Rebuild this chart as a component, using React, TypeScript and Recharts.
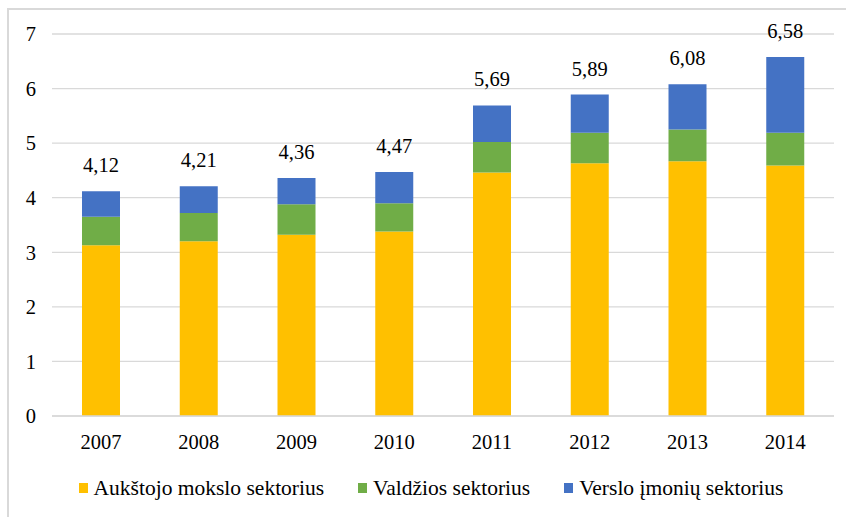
import React from "react";
import { BarChart, Bar, XAxis, YAxis, CartesianGrid, Legend, LabelList } from "recharts";

const years = ["2007", "2008", "2009", "2010", "2011", "2012", "2013", "2014"];
const aukstojo = [3.13, 3.2, 3.32, 3.38, 4.46, 4.63, 4.67, 4.59];
const valdzios = [0.52, 0.52, 0.56, 0.52, 0.56, 0.56, 0.58, 0.6];
const verslo = [0.47, 0.49, 0.48, 0.57, 0.67, 0.7, 0.83, 1.39];
const totals = [4.12, 4.21, 4.36, 4.47, 5.69, 5.89, 6.08, 6.58];
const yTicks = [0, 1, 2, 3, 4, 5, 6, 7];

const seriesNames = ["Aukštojo mokslo sektorius", "Valdžios sektorius", "Verslo įmonių sektorius"];
const seriesColors = ["#FFC000", "#70AD47", "#4472C4"];

const data = years.map((y, i) => ({
  year: y,
  a: aukstojo[i],
  v: valdzios[i],
  b: verslo[i],
  total: totals[i],
}));

const FONT = '"Liberation Serif", "Times New Roman", serif';

const LegendContent = () => (
  <div
    style={{
      display: "flex",
      justifyContent: "center",
      alignItems: "center",
      height: 24,
      paddingLeft: 28,
      fontFamily: FONT,
      fontSize: 21.5,
      color: "#000",
      whiteSpace: "nowrap",
    }}
  >
    {seriesNames.map((n, i) => (
      <div key={n} style={{ display: "flex", alignItems: "center", marginRight: i < 2 ? 34 : 0 }}>
        <span style={{ display: "inline-block", width: 9, height: 10, background: seriesColors[i], marginRight: 6 }} />
        <span>{n}</span>
      </div>
    ))}
  </div>
);

export default function App() {
  return (
    <div style={{ position: "absolute", left: 0, top: 0, width: 846, height: 517, overflow: "hidden", background: "#fff" }}>
      <div
        style={{
          position: "absolute",
          left: 7,
          top: 8,
          width: 900,
          height: 600,
          border: "2px solid #d9d9d9",
        }}
      />
      <div style={{ position: "absolute", left: 0, top: 0 }}>
        <BarChart width={846} height={517} data={data} margin={{ top: 34, right: 12, left: 0, bottom: 17 }} barSize={38}>
          <CartesianGrid vertical={false} stroke="#d9d9d9" strokeWidth={1.3} />
          <XAxis
            dataKey="year"
            height={60}
            tickLine={false}
            axisLine={{ stroke: "#d9d9d9", strokeWidth: 1.3 }}
            tickMargin={12}
            tick={{ fill: "#000", fontFamily: FONT, fontSize: 20.5 }}
          />
          <YAxis
            width={52}
            domain={[0, 7]}
            ticks={yTicks}
            tickLine={false}
            axisLine={false}
            tickMargin={10}
            tick={{ fill: "#000", fontFamily: FONT, fontSize: 20.5 }}
          />
          <Legend verticalAlign="bottom" content={<LegendContent />} />
          <Bar dataKey="a" stackId="s" fill={seriesColors[0]} name={seriesNames[0]} isAnimationActive={false} />
          <Bar dataKey="v" stackId="s" fill={seriesColors[1]} name={seriesNames[1]} isAnimationActive={false} />
          <Bar dataKey="b" stackId="s" fill={seriesColors[2]} name={seriesNames[2]} isAnimationActive={false}>
            <LabelList
              dataKey="total"
              position="top"
              offset={19}
              formatter={(v: number) => v.toFixed(2).replace(".", ",")}
              style={{ fill: "#000", fontFamily: FONT, fontSize: 20.5 }}
            />
          </Bar>
        </BarChart>
      </div>
    </div>
  );
}
